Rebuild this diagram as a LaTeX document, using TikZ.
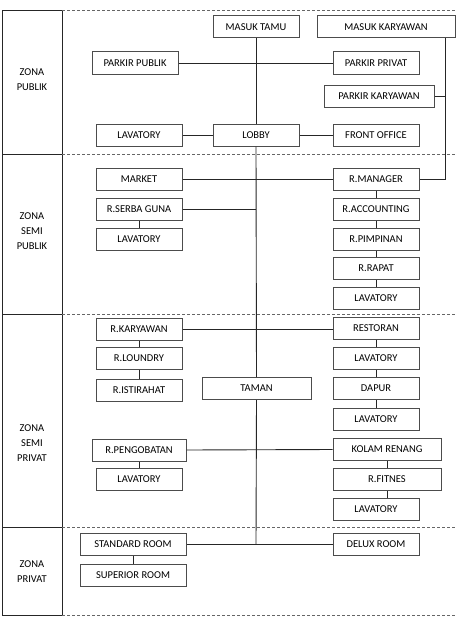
\documentclass[tikz,border=0pt]{standalone}
\usepackage{fontspec}
\setmainfont{Carlito}
\begin{document}
\begin{tikzpicture}[x=1pt,y=-1pt,
  bx/.style={draw=black!70, line width=1pt, fill=white, minimum width=86pt, minimum height=22pt, inner sep=0pt, font=\fontsize{10.5}{12}\selectfont},
  zn/.style={align=center, font=\fontsize{10.5}{15}\selectfont},
  ln/.style={draw=black!85, line width=0.9pt},
  dl/.style={draw=black!60, line width=0.8pt, dash pattern=on 3pt off 2pt}]
\useasboundingbox (0,0) rectangle (457,618);
% zone frame
\draw[ln] (2,10.7) rectangle (62,615);
\draw[ln] (2,154) -- (62,154);
\draw[ln] (2,314) -- (62,314);
\draw[ln] (2,527) -- (62,527);
\foreach \y in {10.7,154,314,527,615} \draw[dl] (62,\y) -- (457,\y);
\node[zn] (z1) at (32,80) {ZONA\\PUBLIK};
\node[zn] (z2) at (32,231.5) {ZONA\\SEMI\\PUBLIK};
\node[zn] (z3) at (32,443) {ZONA\\SEMI\\PRIVAT};
\node[zn] (z4) at (32,572) {ZONA\\PRIVAT};
% boxes
\node[bx] (mt) at (256,27) {MASUK TAMU};
\node[bx, minimum width=138pt] (mk) at (386,27) {MASUK KARYAWAN};
\node[bx] (pp) at (135,63) {PARKIR PUBLIK};
\node[bx] (pv) at (376,63) {PARKIR PRIVAT};
\node[bx, minimum width=110pt] (pk) at (379,96) {PARKIR KARYAWAN};
\node[bx] (lav1) at (139,135) {LAVATORY};
\node[bx] (lobby) at (256,135) {LOBBY};
\node[bx] (fo) at (376,135) {FRONT OFFICE};
\node[bx] (market) at (139,179) {MARKET};
\node[bx] (rm) at (376,179) {R.MANAGER};
\node[bx] (rsg) at (139,209) {R.SERBA GUNA};
\node[bx] (lav2) at (139,239) {LAVATORY};
\node[bx] (racc) at (376,209.5) {R.ACCOUNTING};
\node[bx] (rpim) at (376,239) {R.PIMPINAN};
\node[bx] (rrap) at (376,268.5) {R.RAPAT};
\node[bx] (lav3) at (376,298.5) {LAVATORY};
\node[bx] (rkar) at (139,329) {R.KARYAWAN};
\node[bx] (rlou) at (139,358.5) {R.LOUNDRY};
\node[bx] (rist) at (139,390) {R.ISTIRAHAT};
\node[bx, minimum width=109pt] (taman) at (256.5,388.5) {TAMAN};
\node[bx] (resto) at (376,328) {RESTORAN};
\node[bx] (lav4) at (376,358.5) {LAVATORY};
\node[bx] (dapur) at (376,388.5) {DAPUR};
\node[bx] (lav5) at (376,419) {LAVATORY};
\node[bx, minimum width=108pt] (kolam) at (387,449.5) {KOLAM RENANG};
\node[bx, minimum width=108pt] (rfit) at (387,479.5) {R.FITNES};
\node[bx] (lav6) at (376,509.5) {LAVATORY};
\node[bx, minimum width=94pt] (rpeng) at (139,450) {R.PENGOBATAN};
\node[bx] (lav7) at (139,479.5) {LAVATORY};
\node[bx, minimum width=106pt] (std) at (133,544) {STANDARD ROOM};
\node[bx] (delux) at (376,544) {DELUX ROOM};
\node[bx, minimum width=106pt] (sup) at (133,575) {SUPERIOR ROOM};
% free coordinates
\coordinate (kv) at (445,38);
\coordinate (spine) at (256,544);
% connectors
\draw[ln] (mt.south) -- (lobby.north);
\draw[ln] (lobby.south) -- (taman.north);
\draw[ln] (taman.south) -- (spine);
\draw[ln] (pp.east) -- (pv.west);
\draw[ln] (lav1.east) -- (lobby.west);
\draw[ln] (lobby.east) -- (fo.west);
\draw[ln] (kv) -- (kv |- rm.east) -- (rm.east);
\draw[ln] (pk.east) -- (pk.east -| kv);
\draw[ln] (market.east) -- (rm.west);
\draw[ln] (rsg.east) -- (rsg.east -| spine);
\draw[ln] (rsg.south) -- (lav2.north);
\draw[ln] (rm.south) -- (racc.north);
\draw[ln] (racc.south) -- (rpim.north);
\draw[ln] (rpim.south) -- (rrap.north);
\draw[ln] (rrap.south) -- (lav3.north);
\draw[ln] (rkar.east) -- (rkar.east -| resto.west);
\draw[ln] (rkar.south) -- (rlou.north);
\draw[ln] (rlou.south) -- (rist.north);
\draw[ln] (resto.south) -- (lav4.north);
\draw[ln] (lav4.south) -- (dapur.north);
\draw[ln] (dapur.south) -- (lav5.north);
\draw[ln] (rpeng.east) -- (kolam.west);
\draw[ln] (rpeng.south) -- (lav7.north);
\draw[ln] (kolam.south) -- (rfit.north);
\draw[ln] (rfit.south) -- (rfit.south |- lav6.north);
\draw[ln] (std.east) -- (delux.west);
\draw[ln] (std.south) -- (sup.north);
\end{tikzpicture}
\end{document}
